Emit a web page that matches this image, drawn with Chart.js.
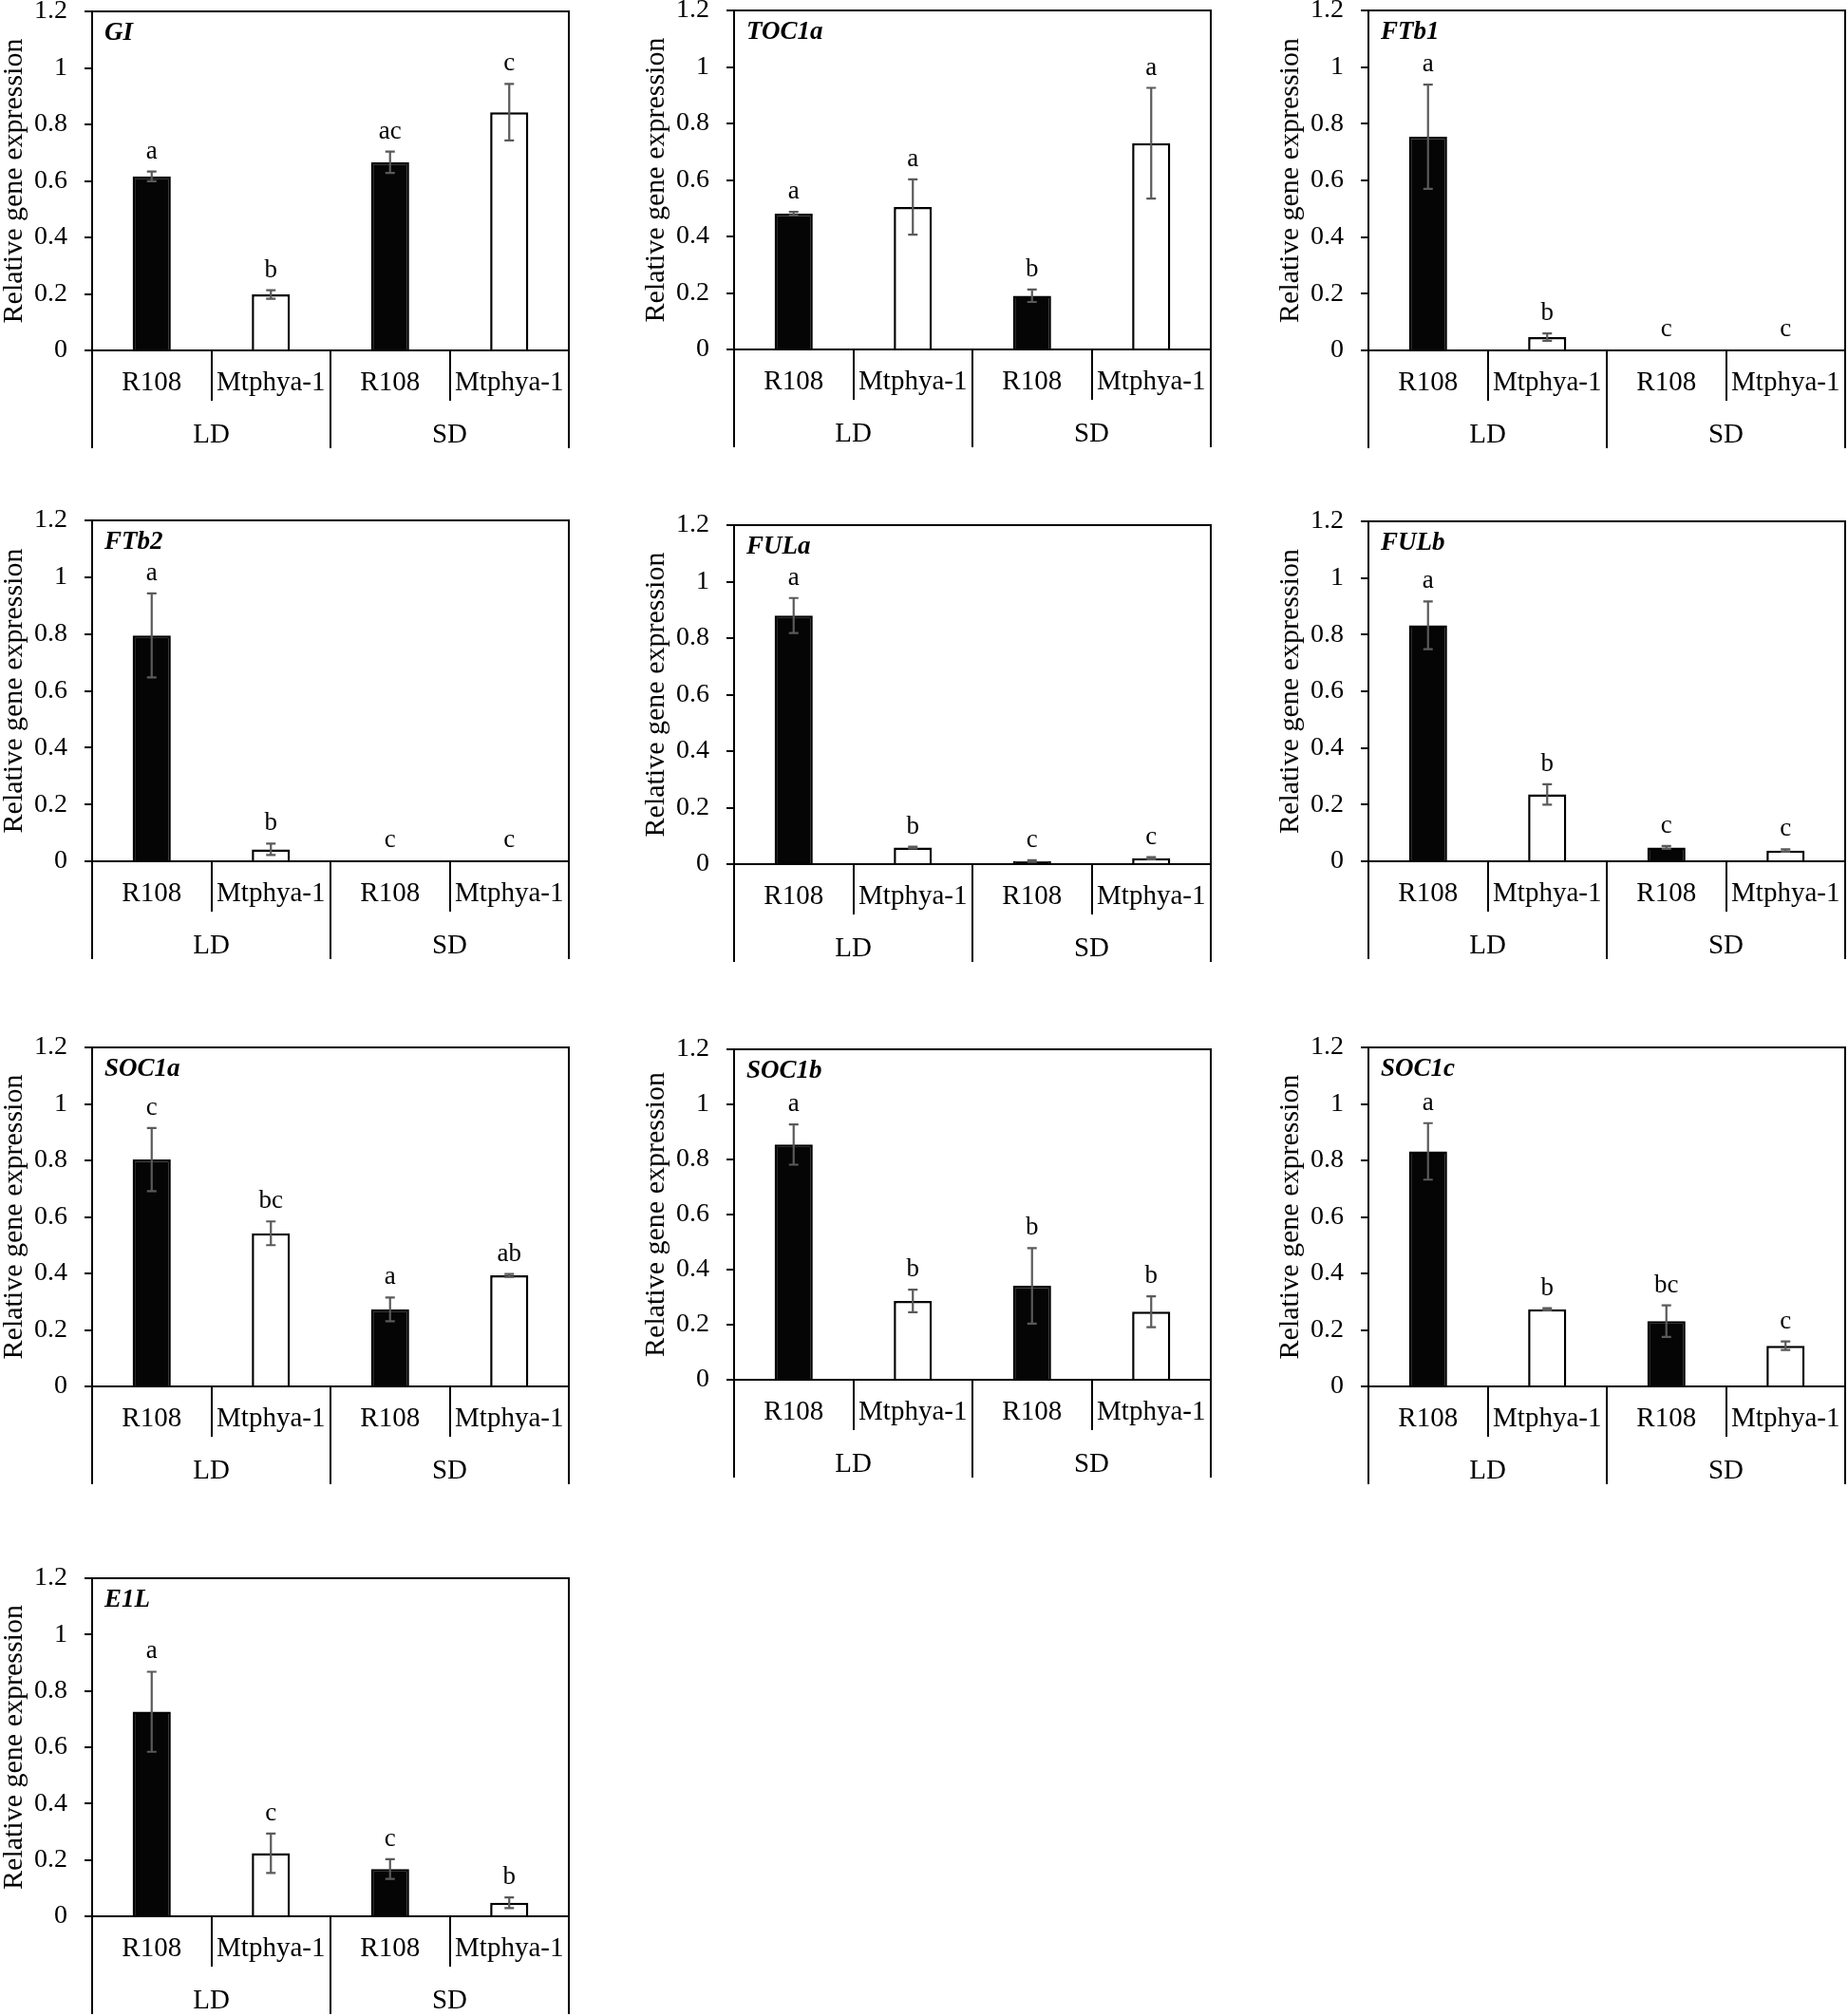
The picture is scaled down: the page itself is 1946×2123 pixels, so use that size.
<!DOCTYPE html>
<html>
<head>
<meta charset="utf-8">
<script src="https://cdn.jsdelivr.net/npm/chart.js@4.4.1/dist/chart.umd.min.js"></script>
<style>
  html, body { margin: 0; padding: 0; background: #fff; }
  body { position: relative; width: 1946px; height: 2123px; overflow: hidden; }
  canvas { position: absolute; }
</style>
</head>
<body>
<script>
// 범주: 유전형(4) + 광주기 그룹(2)
const genotypes = ["R108", "Mtphya-1", "R108", "Mtphya-1"];
const photoperiods = ["LD", "SD"];
const yMax = 1.2, yStep = 0.2;

// 유전자별 평균 / 오차 / 유의성 문자
const giMean = [0.616, 0.198, 0.666, 0.843];
const giErr  = [0.017, 0.015, 0.038, 0.100];
const giSig  = ["a", "b", "ac", "c"];

const toc1aMean = [0.481, 0.504, 0.190, 0.730];
const toc1aErr  = [0.006, 0.098, 0.022, 0.196];
const toc1aSig  = ["a", "a", "b", "a"];

const ftb1Mean = [0.754, 0.047, 0.002, 0.003];
const ftb1Err  = [0.184, 0.013, 0.000, 0.000];
const ftb1Sig  = ["a", "b", "c", "c"];

const ftb2Mean = [0.795, 0.042, 0.003, 0.003];
const ftb2Err  = [0.148, 0.020, 0.000, 0.000];
const ftb2Sig  = ["a", "b", "c", "c"];

const fulaMean = [0.880, 0.059, 0.011, 0.021];
const fulaErr  = [0.062, 0.003, 0.003, 0.004];
const fulaSig  = ["a", "b", "c", "c"];

const fulbMean = [0.833, 0.236, 0.049, 0.038];
const fulbErr  = [0.084, 0.036, 0.005, 0.004];
const fulbSig  = ["a", "b", "c", "c"];

const soc1aMean = [0.803, 0.542, 0.273, 0.393];
const soc1aErr  = [0.112, 0.042, 0.042, 0.005];
const soc1aSig  = ["c", "bc", "a", "ab"];

const soc1bMean = [0.854, 0.286, 0.341, 0.247];
const soc1bErr  = [0.073, 0.041, 0.137, 0.056];
const soc1bSig  = ["a", "b", "b", "b"];

const soc1cMean = [0.832, 0.273, 0.231, 0.144];
const soc1cErr  = [0.100, 0.004, 0.056, 0.015];
const soc1cSig  = ["a", "b", "bc", "c"];

const e1lMean = [0.726, 0.224, 0.168, 0.048];
const e1lErr  = [0.142, 0.070, 0.035, 0.019];
const e1lSig  = ["a", "c", "c", "b"];

const panels = [
  { gene: "GI",    mean: giMean,    err: giErr,    sig: giSig },
  { gene: "TOC1a", mean: toc1aMean, err: toc1aErr, sig: toc1aSig },
  { gene: "FTb1",  mean: ftb1Mean,  err: ftb1Err,  sig: ftb1Sig },
  { gene: "FTb2",  mean: ftb2Mean,  err: ftb2Err,  sig: ftb2Sig },
  { gene: "FULa",  mean: fulaMean,  err: fulaErr,  sig: fulaSig },
  { gene: "FULb",  mean: fulbMean,  err: fulbErr,  sig: fulbSig },
  { gene: "SOC1a", mean: soc1aMean, err: soc1aErr, sig: soc1aSig },
  { gene: "SOC1b", mean: soc1bMean, err: soc1bErr, sig: soc1bSig },
  { gene: "SOC1c", mean: soc1cMean, err: soc1cErr, sig: soc1cSig },
  { gene: "E1L",   mean: e1lMean,   err: e1lErr,   sig: e1lSig },
];

// ── 레이아웃: [y축 x, 1.2 위치 y, 0 위치 y] (페이지 픽셀) ──
const frames = [
  [97, 12, 369], [773, 11, 368], [1441, 11, 369],
  [97, 548, 907], [773, 553, 910], [1441, 549, 907],
  [97, 1103, 1460], [773, 1105, 1453], [1441, 1103, 1460],
  [97, 1662, 2018],
];
const PLOT_W = 502, Y_AXIS_W = 100, PAD_TOP = 40, PAD_R = 4, PAD_B = 4;
const X1_H = 53, X2_H = 50;
const SERIF = "'Liberation Serif', 'Times New Roman', serif";
const BAR_FILL = ["#050505", "#ffffff", "#050505", "#ffffff"];

Chart.defaults.font.family = SERIF;
Chart.defaults.color = "#000";

// 오차 막대 + 유의성 문자 + 상/우 테두리 + 유전자 이름
function decor(p) {
  return {
    id: "decor",
    afterDatasetsDraw(chart) {
      const { ctx, chartArea: a, scales: { y } } = chart;
      const bars = chart.getDatasetMeta(0).data;
      ctx.save();
      ctx.strokeStyle = "#000"; ctx.lineWidth = 2;
      ctx.beginPath();
      ctx.moveTo(a.left, a.top); ctx.lineTo(a.right, a.top); ctx.lineTo(a.right, a.bottom);
      ctx.stroke();

      ctx.strokeStyle = "#5a5a5a"; ctx.lineWidth = 2.2;
      ctx.fillStyle = "#000"; ctx.font = "27px " + SERIF;
      ctx.textAlign = "center"; ctx.textBaseline = "alphabetic";
      bars.forEach((bar, i) => {
        const v = p.mean[i], e = p.err[i];
        const yHi = y.getPixelForValue(v + e), yLo = y.getPixelForValue(Math.max(v - e, 0));
        if (e > 0) {
          ctx.beginPath();
          ctx.moveTo(bar.x, yHi); ctx.lineTo(bar.x, yLo);
          ctx.moveTo(bar.x - 5, yHi); ctx.lineTo(bar.x + 5, yHi);
          ctx.moveTo(bar.x - 5, yLo); ctx.lineTo(bar.x + 5, yLo);
          ctx.stroke();
        }
        ctx.fillText(p.sig[i], bar.x, yHi - 14);
      });

      ctx.font = "italic bold 27px " + SERIF;
      ctx.textAlign = "left"; ctx.textBaseline = "middle";
      ctx.fillText(p.gene, a.left + 13, a.top + 23);
      ctx.restore();
    },
  };
}

const fmtTick = (v) => String(Math.round(v * 10) / 10);

panels.forEach((p, k) => {
  const [ax, top, zero] = frames[k];
  const cv = document.createElement("canvas");
  const w = Y_AXIS_W + PLOT_W + PAD_R;
  const h = PAD_TOP + (zero - top) + X1_H + X2_H + PAD_B;
  cv.width = w; cv.height = h;
  cv.style.width = w + "px"; cv.style.height = h + "px";
  cv.style.left = (ax - Y_AXIS_W) + "px";
  cv.style.top = (top - PAD_TOP) + "px";
  document.body.appendChild(cv);

  const chart = new Chart(cv, {
    type: "bar",
    data: {
      labels: genotypes,
      datasets: [{
        data: p.mean,
        backgroundColor: BAR_FILL,
        borderColor: "#000",
        borderWidth: 2.5,
        barPercentage: 0.32,
        categoryPercentage: 1,
      }],
    },
    options: {
      responsive: false, animation: false, devicePixelRatio: 1,
      layout: { padding: { top: PAD_TOP, right: PAD_R, bottom: PAD_B, left: 0 } },
      plugins: { legend: { display: false }, tooltip: { enabled: false } },
      scales: {
        y: {
          min: 0, max: yMax,
          ticks: { stepSize: yStep, font: { size: 28 }, color: "#000", padding: 18, callback: fmtTick },
          grid: { drawOnChartArea: false, drawTicks: true, tickLength: 8, color: "#000", lineWidth: 2 },
          border: { display: true, color: "#000", width: 2 },
          title: { display: true, text: "Relative gene expression", font: { size: 30 }, color: "#000", padding: 0 },
          afterFit: (s) => { s.width = Y_AXIS_W; },
        },
        x: {
          type: "category", position: "bottom", weight: 0, offset: true,
          grid: { offset: true, drawOnChartArea: false, drawTicks: true, tickLength: X1_H, color: "#000", lineWidth: 2 },
          border: { display: true, color: "#000", width: 2 },
          ticks: { font: { size: 29 }, color: "#000", padding: 17 - X1_H, maxRotation: 0, autoSkip: false },
          afterFit: (s) => { s.height = X1_H; },
        },
        x2: {
          type: "category", position: "bottom", weight: 1, offset: true,
          labels: photoperiods,
          grid: { offset: true, drawOnChartArea: false, drawTicks: true, tickLength: X2_H, color: "#000", lineWidth: 2 },
          border: { display: false },
          ticks: { font: { size: 29 }, color: "#000", padding: 19 - X2_H, maxRotation: 0, autoSkip: false },
          afterFit: (s) => { s.height = X2_H; },
        },
      },
    },
    plugins: [decor(p)],
  });

  // 실제 chartArea 기준으로 위치 보정 (축 패딩 때문에 밀리는 경우)
  const ca = chart.chartArea;
  const dh = (zero - top) - (ca.bottom - ca.top);
  if (Math.abs(dh) > 0.5) {
    chart.resize(w, Math.round(h + dh));
    cv.style.width = w + "px";
  }
  cv.style.top = (top - chart.chartArea.top) + "px";
});
</script>
</body>
</html>
